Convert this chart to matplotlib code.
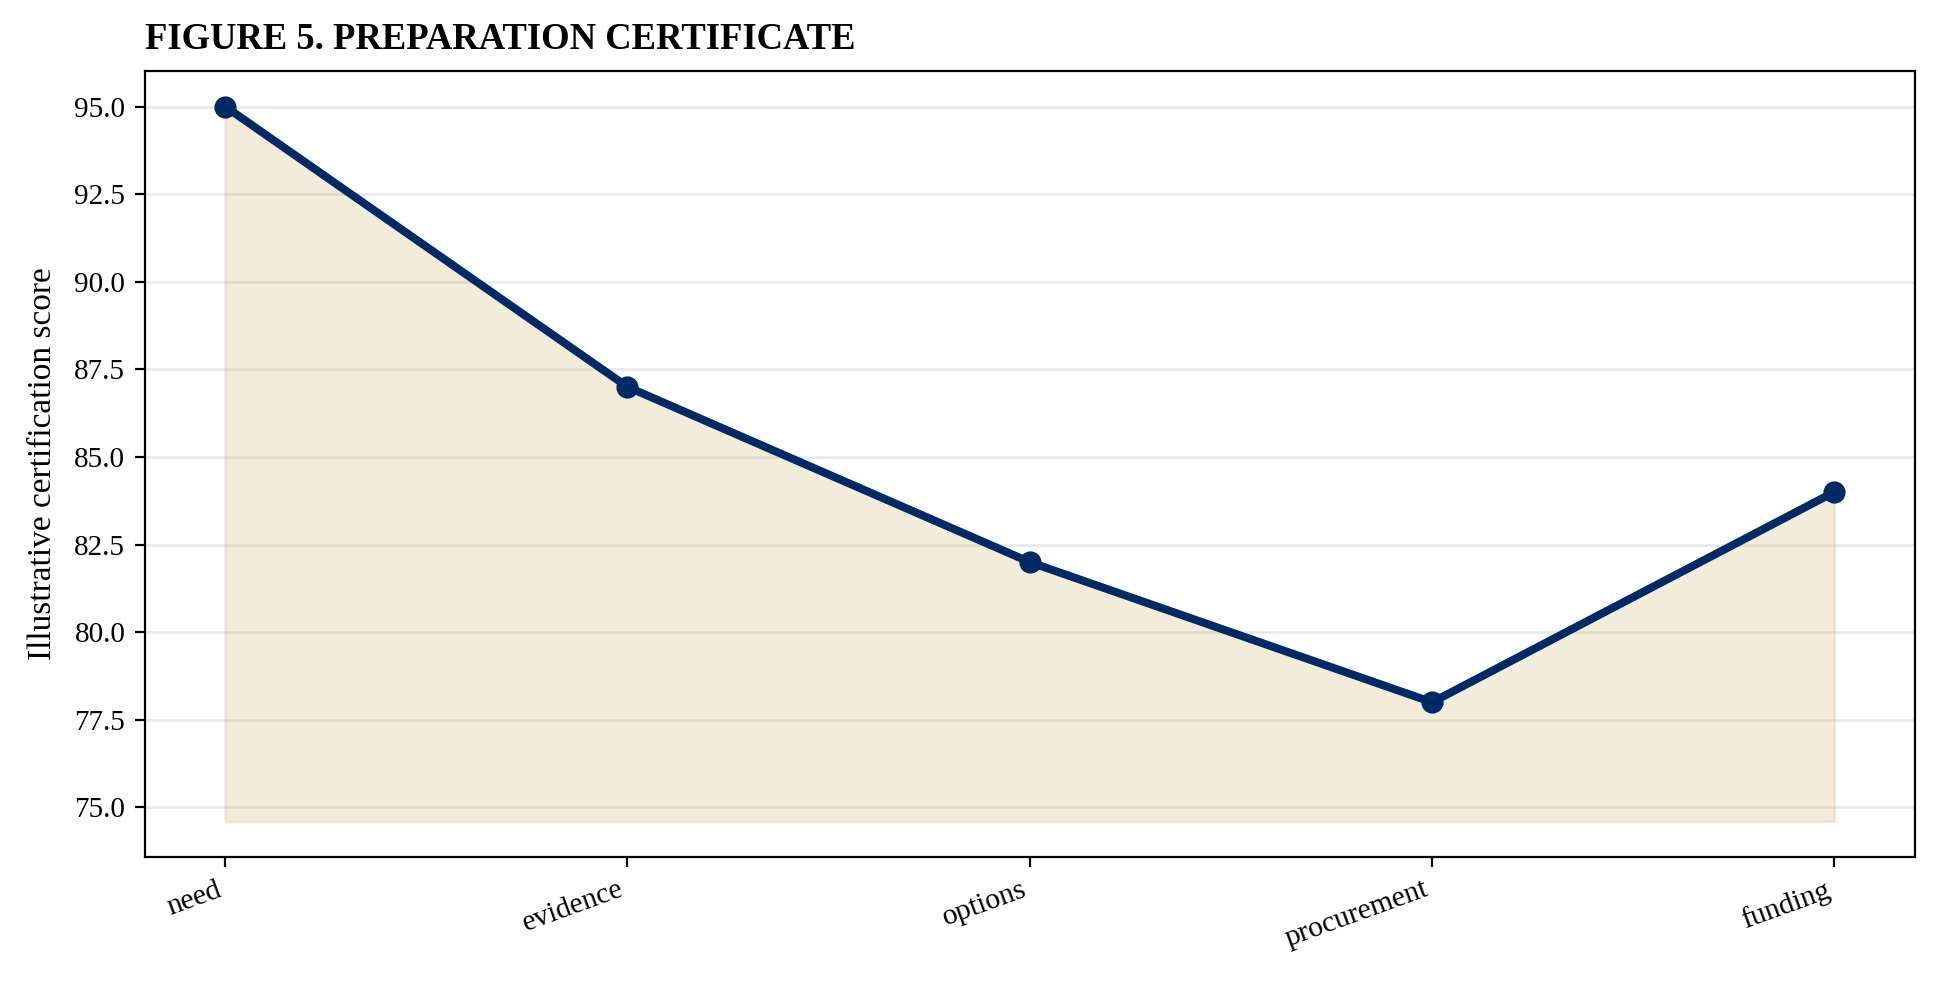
import matplotlib.pyplot as plt
import numpy as np

# stages and scores
stages = ["need", "evidence", "options", "procurement", "funding"]
scores = [95, 87, 82, 78, 84]
fill_base = 74.6

plt.rcParams['font.family'] = ['Liberation Serif', 'DejaVu Serif']

fig = plt.figure(figsize=(9.7, 4.915), dpi=200)
ax = fig.add_axes([0.0746, 0.128, 0.9124, 0.80])

x = np.arange(len(stages))
ax.fill_between(x, scores, fill_base, color='#c8a34a', alpha=0.2, linewidth=1)
ax.plot(x, scores, color='#002a66', linewidth=2.9, marker='o', markersize=7, zorder=3)

ax.set_xticks(x)
ax.set_xticklabels(stages, rotation=20, ha='right', fontsize=10.7)
ax.tick_params(axis='y', labelsize=10.5)
ax.set_ylabel("Illustrative certification score", fontsize=12, labelpad=6)
ax.set_title("FIGURE 5. PREPARATION CERTIFICATE", loc='left', fontweight='bold',
             fontsize=13.2, pad=8)
ax.grid(axis='y', color='#dddddd', alpha=0.6, linewidth=1)
ax.set_axisbelow(True)

fig.savefig("out.png", dpi=200)
